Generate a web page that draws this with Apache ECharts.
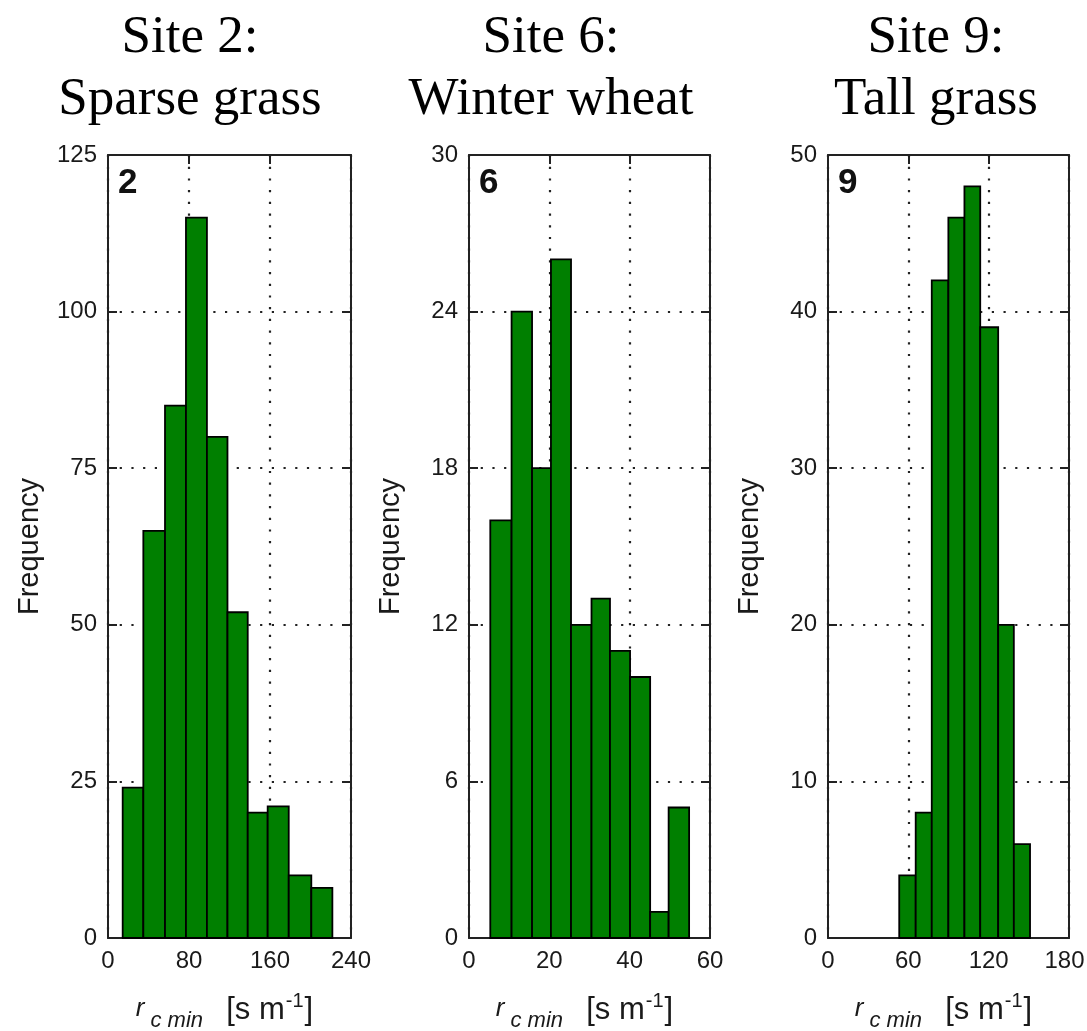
<!DOCTYPE html>
<html>
<head>
<meta charset="utf-8">
<title>Minimum canopy resistance histograms</title>
<script src="https://cdn.jsdelivr.net/npm/echarts@6/dist/echarts.min.js"></script>
<style>
  html, body { margin: 0; padding: 0; background: #fff; }
  #chart { width: 1087px; height: 1031px; }
</style>
</head>
<body>
<div id="chart"></div>
<script>
// Histogram bin edges (s m^-1) and counts for each site
const site2Edges = [14.5, 34.9, 56.3, 77.0, 97.7, 118.0, 138.0, 157.7, 178.5, 200.8, 221.6];
const site2Counts = [24, 65, 85, 115, 80, 52, 20, 21, 10, 8];

const site6Edges = [5.3, 10.6, 15.7, 20.4, 25.4, 30.5, 35.1, 40.1, 45.1, 49.7, 54.8];
const site6Counts = [16, 24, 18, 26, 12, 13, 11, 10, 1, 5];

const site9Edges = [53.2, 65.5, 77.5, 89.9, 101.9, 113.7, 127.1, 138.8, 150.9];
const site9Counts = [4, 8, 42, 46, 48, 39, 20, 6];

// Panel titles, corner tags and axis ticks
const siteTitles = ['Site 2:\nSparse grass', 'Site 6:\nWinter wheat', 'Site 9:\nTall grass'];
const siteTags = ['2', '6', '9'];
const xMax = [240, 60, 180];
const xStep = [80, 20, 60];
const yMax = [125, 30, 50];
const yStep = [25, 6, 10];

const panels = [
  { edges: site2Edges, counts: site2Counts },
  { edges: site6Edges, counts: site6Counts },
  { edges: site9Edges, counts: site9Counts }
];

// Layout of the three plot boxes
const gridLeft = [108, 469, 828];
const gridWidth = [243, 241, 241];
const gridTop = 155;
const gridHeight = 783;
const titleCenter = [190, 551, 936];

const labelFont = 'Liberation Sans, Arial, Helvetica, sans-serif';
const inkColor = '#1a1a1a';
const barGreen = '#007f00';

const chart = echarts.init(document.getElementById('chart'), null, { renderer: 'canvas' });

const grids = [], xAxes = [], yAxes = [], series = [], titles = [], graphics = [];

const dotted = { color: '#222', width: 2.2, type: [2.2, 9.5] };
const boxLine = { show: true, onZero: false, lineStyle: { color: '#222', width: 2 } };
const innerTick = { show: true, inside: true, length: 9, lineStyle: { color: '#222', width: 2 } };

panels.forEach((p, i) => {
  grids.push({
    left: gridLeft[i], top: gridTop, width: gridWidth[i], height: gridHeight,
    containLabel: false, outerBoundsMode: 'none'
  });

  // bottom x axis with labels, top x axis carries the box edge and ticks
  const lastPanel = i === panels.length - 1;
  xAxes.push({
    type: 'value', gridIndex: i, min: 0, max: xMax[i], interval: xStep[i], position: 'bottom',
    axisLine: boxLine, axisTick: innerTick,
    axisLabel: {
      show: true, margin: 11, color: inkColor, fontSize: 24, fontFamily: labelFont,
      // the right-most label of the last panel is nudged left so it stays on the page
      formatter: v => (lastPanel && v === xMax[i]) ? '{edge|' + v + '}' : String(v),
      rich: { edge: { fontSize: 24, fontFamily: labelFont, color: inkColor, padding: [0, 9, 0, 0] } }
    },
    splitLine: { show: true, lineStyle: dotted },
    name: '{r|r}{sub|c min}{u|  [s m}{sup|-1}{u|]}',
    nameLocation: 'middle', nameGap: 50,
    nameTextStyle: {
      color: inkColor, fontFamily: labelFont, padding: [0, 10, 0, 0],
      rich: {
        r: { fontSize: 26, fontStyle: 'italic', fontFamily: labelFont, color: inkColor, padding: [0, 3, 2, 0] },
        sub: { fontSize: 22, fontStyle: 'italic', fontFamily: labelFont, color: inkColor, padding: [22, 6, 0, 3] },
        u: { fontSize: 31, fontFamily: labelFont, color: inkColor },
        sup: { fontSize: 20, fontFamily: labelFont, color: inkColor, padding: [0, 1, 18, 1] }
      }
    }
  });
  xAxes.push({
    type: 'value', gridIndex: i, min: 0, max: xMax[i], interval: xStep[i], position: 'top',
    axisLine: boxLine, axisTick: innerTick,
    axisLabel: { show: false }, splitLine: { show: false }
  });

  yAxes.push({
    type: 'value', gridIndex: i, min: 0, max: yMax[i], interval: yStep[i], position: 'left',
    axisLine: boxLine, axisTick: innerTick,
    axisLabel: { show: true, margin: 11, color: inkColor, fontSize: 24, fontFamily: labelFont },
    splitLine: { show: true, lineStyle: dotted },
    name: 'Frequency', nameLocation: 'middle', nameGap: 64, nameRotate: 90,
    nameTextStyle: { color: inkColor, fontSize: 29, fontFamily: labelFont }
  });
  yAxes.push({
    type: 'value', gridIndex: i, min: 0, max: yMax[i], interval: yStep[i], position: 'right',
    axisLine: boxLine, axisTick: innerTick,
    axisLabel: { show: false }, splitLine: { show: false }
  });

  // one row per bin: [left edge, right edge, count]
  const binRows = p.counts.map((c, k) => [p.edges[k], p.edges[k + 1], c]);

  series.push({
    type: 'custom',
    xAxisIndex: i * 2, yAxisIndex: i * 2,
    data: binRows,
    encode: { x: [0, 1], y: 2 },
    z: 3,
    renderItem: function (params, api) {
      const a = api.coord([api.value(0), 0]);
      const b = api.coord([api.value(1), api.value(2)]);
      return {
        type: 'rect',
        shape: { x: a[0], y: b[1], width: b[0] - a[0], height: a[1] - b[1] },
        style: { fill: barGreen, stroke: '#000', lineWidth: 1.8 }
      };
    }
  });

  titles.push({
    text: siteTitles[i], left: titleCenter[i], top: 7, textAlign: 'center', padding: 0,
    textStyle: { fontFamily: 'Liberation Serif, Times New Roman, serif', fontSize: 53, lineHeight: 62, fontWeight: 'normal', color: '#000' }
  });

  graphics.push({
    type: 'text', left: gridLeft[i] + 10, top: 166, z: 10,
    style: { text: siteTags[i], fontSize: 35, fontWeight: 'bold', fontFamily: labelFont, fill: '#111' }
  });
});

chart.setOption({
  backgroundColor: '#fff',
  animation: false,
  title: titles,
  grid: grids,
  xAxis: xAxes,
  yAxis: yAxes,
  series: series,
  graphic: graphics
});
</script>
</body>
</html>
